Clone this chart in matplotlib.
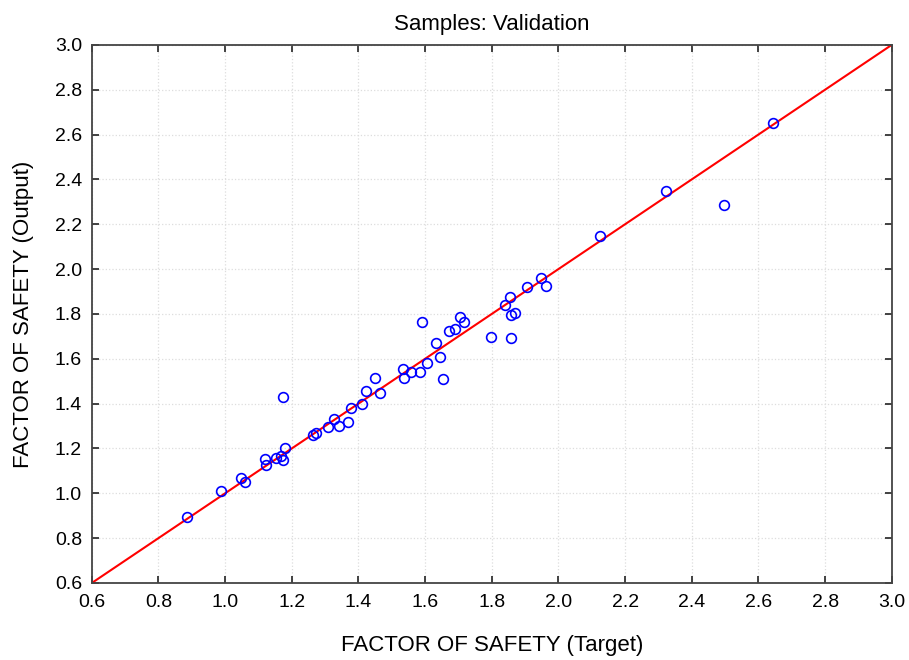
import numpy as np
from matplotlib import pyplot as plt

plt.rcParams['font.family'] = ['Liberation Sans', 'DejaVu Sans']

# DATA: target vs network output (validation samples)
target = [0.886, 0.989, 1.047, 1.059, 1.121, 1.123, 1.152, 1.167, 1.179, 1.175,
          1.175, 1.264, 1.272, 1.310, 1.326, 1.342, 1.368, 1.377, 1.411, 1.424,
          1.449, 1.466, 1.534, 1.537, 1.559, 1.584, 1.592, 1.606, 1.634, 1.644,
          1.654, 1.672, 1.691, 1.704, 1.716, 1.798, 1.841, 1.855, 1.858, 1.871,
          1.858, 1.907, 1.948, 1.962, 2.126, 2.324, 2.496, 2.645]
output = [0.896, 1.012, 1.070, 1.052, 1.152, 1.127, 1.156, 1.167, 1.204, 1.147,
          1.431, 1.259, 1.269, 1.295, 1.333, 1.299, 1.317, 1.380, 1.397, 1.458,
          1.516, 1.446, 1.554, 1.516, 1.540, 1.540, 1.766, 1.580, 1.669, 1.607,
          1.509, 1.726, 1.732, 1.788, 1.764, 1.698, 1.840, 1.874, 1.796, 1.806,
          1.694, 1.920, 1.961, 1.926, 2.149, 2.348, 2.286, 2.651]

ticks = np.arange(0.6, 3.01, 0.2)
fit_x = [0.6, 3.0]

fig = plt.figure(figsize=(9.09, 6.6), dpi=100)
ax = fig.add_axes([0.101, 0.1167, 0.880, 0.8153])

ax.plot(fit_x, fit_x, color='#ff0000', linewidth=1.5, zorder=2)
ax.plot(target, output, linestyle='none', marker='o', markersize=7,
        markerfacecolor='none', markeredgecolor='#0000ff', markeredgewidth=1.2, zorder=3)

ax.set_xlim(0.6, 3.0)
ax.set_ylim(0.6, 3.0)
ax.set_xticks(ticks)
ax.set_yticks(ticks)
ax.set_xticklabels(['%.1f' % t for t in ticks])
ax.set_yticklabels(['%.1f' % t for t in ticks])
ax.tick_params(direction='in', top=True, right=True, length=5, width=1.2,
               labelsize=14, color='#222222')
ax.tick_params(axis='x', pad=8)
ax.tick_params(axis='y', pad=7)
ax.grid(True, linestyle=':', color='#dddddd', linewidth=0.9)
ax.set_axisbelow(True)
for s in ax.spines.values():
    s.set_linewidth(1.3)
    s.set_color('#444444')

ax.set_title('Samples: Validation', fontsize=16, pad=11)
ax.set_xlabel('FACTOR OF SAFETY (Target)', fontsize=16, labelpad=17)
ax.set_ylabel('FACTOR OF SAFETY (Output)', fontsize=16, labelpad=15)

fig.savefig('out.png', dpi=100)
